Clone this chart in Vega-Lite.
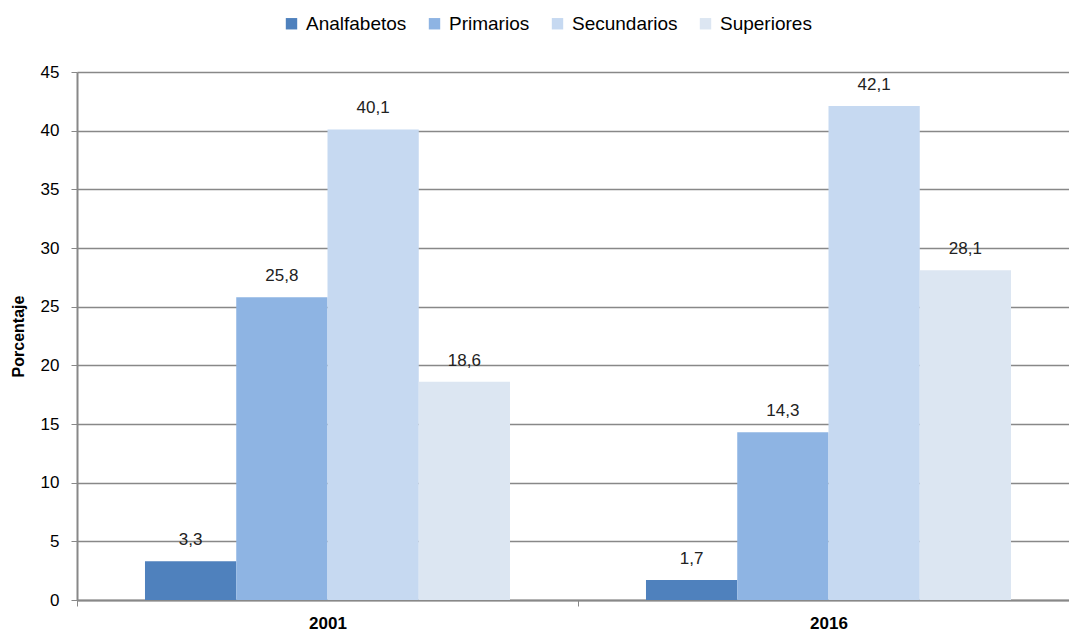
{
  "$schema": "https://vega.github.io/schema/vega-lite/v6.json",
  "autosize": {"type": "none"},
  "padding": {"left": 77, "top": 72, "right": 0, "bottom": 32},
  "width": 1002,
  "height": 528,
  "background": "white",
  "config": {
    "locale": {"number": {"decimal": ",", "thousands": ".", "grouping": [3], "currency": ["", " €"]}},
    "font": "Liberation Sans",
    "view": {"stroke": null}
  },
  "data": {"values": [
    {"anio": "2001", "nivel": "Analfabetos", "valor": 3.3},
    {"anio": "2001", "nivel": "Primarios", "valor": 25.8},
    {"anio": "2001", "nivel": "Secundarios", "valor": 40.1},
    {"anio": "2001", "nivel": "Superiores", "valor": 18.6},
    {"anio": "2016", "nivel": "Analfabetos", "valor": 1.7},
    {"anio": "2016", "nivel": "Primarios", "valor": 14.3},
    {"anio": "2016", "nivel": "Secundarios", "valor": 42.1},
    {"anio": "2016", "nivel": "Superiores", "valor": 28.1}
  ]},
  "encoding": {
    "x": {"field": "anio", "type": "nominal", "title": null,
      "scale": {"paddingInner": 0, "paddingOuter": 0},
      "axis": {"labelAngle": 0, "labelFontWeight": "bold", "labelFontSize": 17, "labelColor": "#000",
        "domainColor": "#888", "domainWidth": 2, "tickBand": "extent", "tickColor": "#888", "tickSize": 6, "labelPadding": 9}},
    "xOffset": {"field": "nivel", "type": "nominal", "scale": {"paddingOuter": 0.745, "paddingInner": 0}},
    "y": {"field": "valor", "type": "quantitative", "title": "Porcentaje",
      "scale": {"domain": [0, 45]},
      "axis": {"values": [0,5,10,15,20,25,30,35,40,45], "labelFontSize": 17, "labelColor": "#000",
        "titleFontSize": 16, "titleFontWeight": "bold", "titleColor": "#000", "titlePadding": 14,
        "domainColor": "#888", "domainWidth": 2, "tickColor": "#888", "tickSize": 6, "labelPadding": 12,
        "gridColor": "#888", "gridWidth": 1.5}}
  },
  "layer": [
    {"mark": {"type": "bar"},
      "encoding": {"color": {"field": "nivel", "type": "nominal", "title": null,
        "scale": {"domain": ["Analfabetos", "Primarios", "Secundarios", "Superiores"],
                  "range": ["#4F81BD", "#8EB4E3", "#C6D9F1", "#DCE6F2"]},
        "legend": {"orient": "none", "legendX": 205, "legendY": -58, "direction": "horizontal",
          "symbolType": "square", "symbolSize": 130, "symbolStrokeWidth": 0, "labelFontSize": 19, "labelColor": "#000",
          "columnPadding": 18, "labelOffset": 5}}}},
    {"mark": {"type": "text", "baseline": "bottom", "dy": -12, "fontSize": 17, "color": "#222"},
      "encoding": {"text": {"field": "valor", "type": "quantitative", "format": ".1f"}}}
  ]
}
